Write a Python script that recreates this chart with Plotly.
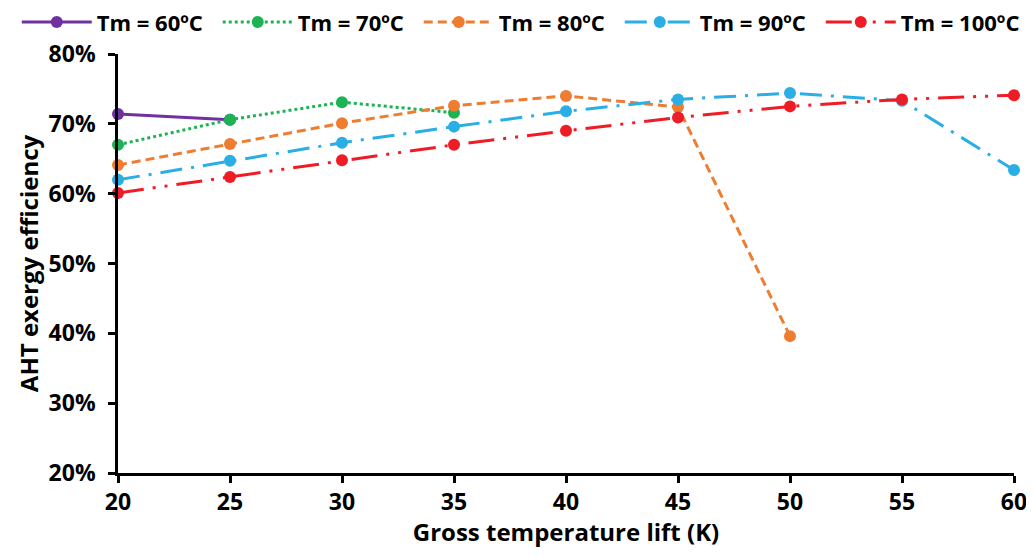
import plotly.graph_objects as go

lift = [20, 25, 30, 35, 40, 45, 50, 55, 60]

tm60 = [0.714, 0.706]
tm70 = [0.670, 0.706, 0.731, 0.716]
tm80 = [0.641, 0.671, 0.701, 0.726, 0.740, 0.724, 0.396]
tm90 = [0.620, 0.647, 0.673, 0.696, 0.718, 0.735, 0.744, 0.733, 0.634]
tm100 = [0.601, 0.624, 0.648, 0.670, 0.690, 0.709, 0.725, 0.735, 0.741]

names = ["Tm = 60ºC", "Tm = 70ºC", "Tm = 80ºC", "Tm = 90ºC", "Tm = 100ºC"]
colors = ["#7030A0", "#1DB354", "#EE7D31", "#29AEE6", "#EE1C25"]
dashes = ["solid", "dot", "9px,5px", "22px,9px,3px,9px", "26px,9px,3px,9px,3px,9px"]
series = [tm60, tm70, tm80, tm90, tm100]

fig = go.Figure()
for name, vals, col, dash in zip(names, series, colors, dashes):
    fig.add_trace(go.Scatter(
        x=lift[:len(vals)], y=vals, name=name, mode="lines+markers",
        line=dict(color=col, width=3, dash=dash),
        marker=dict(color=col, size=12, symbol="circle"),
        cliponaxis=False,
    ))

# page body has an 8px margin, so margins are shifted by 8px
axis_font = dict(family="Open Sans", size=23, color="black", weight="bold")
fig.update_layout(
    width=1026, height=540,
    paper_bgcolor="white", plot_bgcolor="white",
    margin=dict(l=110, r=20, t=46, b=75, autoexpand=False),
    font=dict(family="Open Sans", color="black"),
    showlegend=True,
    legend=dict(orientation="h", x=-0.113, y=1.076, xanchor="left", yanchor="middle",
                itemwidth=70, entrywidth=116, entrywidthmode="pixels",
                font=dict(family="Open Sans", size=22, color="black", weight="bold")),
    xaxis=dict(range=[20, 60], tickvals=lift, showline=True, linecolor="black", linewidth=2.5,
               ticks="outside", ticklen=7, tickwidth=2.5, tickcolor="black",
               ticklabeloverflow="allow",
               showgrid=False, zeroline=False, tickfont=axis_font,
               title=dict(text="Gross temperature lift (K)", standoff=20,
                          font=dict(axis_font, size=24))),
    yaxis=dict(range=[0.2, 0.8], dtick=0.1, tickformat=".0%", showline=True, linecolor="black",
               linewidth=2.5, ticks="outside", ticklen=7, tickwidth=2.5, tickcolor="black",
               ticklabelstandoff=8,
               showgrid=False, zeroline=False, tickfont=axis_font,
               title=dict(text="AHT exergy efficiency", standoff=4,
                          font=dict(axis_font, size=24))),
)

fig.write_html("out.html")
